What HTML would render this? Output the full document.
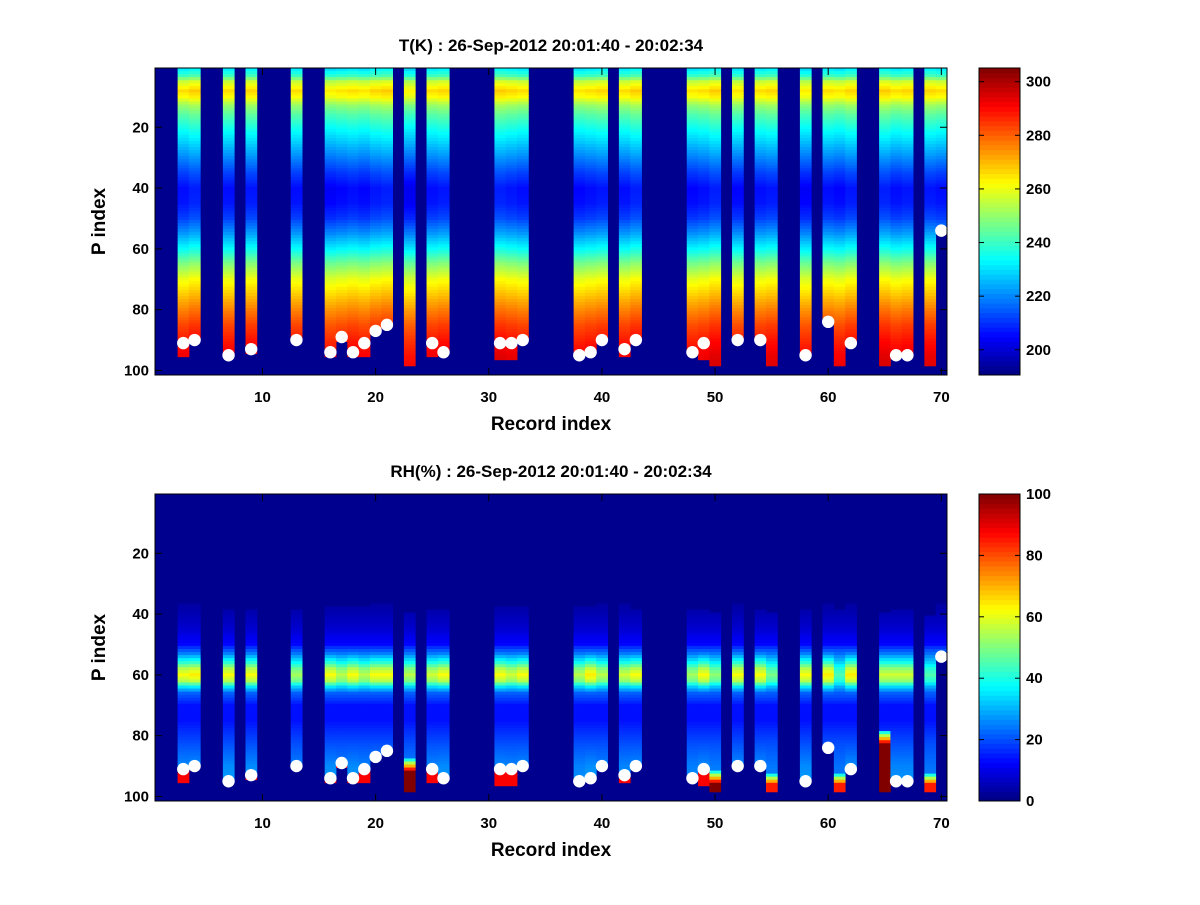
<!DOCTYPE html>
<html><head><meta charset="utf-8"><style>
body{margin:0;background:#fff}
svg text{font-family:"Liberation Sans",sans-serif;font-weight:bold;fill:#000}
</style></head><body>
<svg id="fig" width="1200" height="900" viewBox="0 0 1200 900" xmlns="http://www.w3.org/2000/svg">
<rect width="1200" height="900" fill="#fff"/>
<g id="g1"></g>
<g id="g2"></g>
</svg>
<script>
// ---- data ----
const cols = [3,4,7,9,13,16,17,18,19,20,21,23,25,26,31,32,33,38,39,40,42,43,48,49,50,52,54,55,58,60,61,62,65,66,67,69,70];
const dots = [91,90,95,93,90,94,89,94,91,87,85,null,91,94,91,91,90,95,94,90,93,90,94,91,null,90,90,null,95,84,null,91,null,95,95,null,54];
const ends = [95,89,94,94,89,95,90,95,95,86,84,98,95,93,96,96,89,94,93,89,95,89,93,96,98,89,89,98,94,83,98,90,98,94,94,98,53];
const tOff = [0,2,0,1,0,-2,-1,0,-1,1,2,-3,0,1,2,1,0,-1,0,1,0,2,-1,0,2,-1,0,1,-2,0,-1,1,2,0,1,1,0];
const tP = [1,3,5,8,10,13,16,20,25,30,35,40,45,50,55,60,65,70,75,80,85,90,95,100];
const tV = [232,240,256,266,262,250,243,236,228,220,212,206,207,212,222,234,248,260,268,276,283,288,292,294];
const rhScale = [1.0,1.05,1.0,1.0,0.8,1.0,0.85,1.0,0.85,1.0,1.0,0.85,0.9,1.0,1.0,0.9,1.0,0.85,1.05,0.85,0.9,1.0,0.8,1.0,0.75,1.0,1.0,0.7,1.0,1.05,0.6,1.05,0.9,0.9,0.9,0.6,0.7];
const rhStart = [37,37,39,39,39,38,38,38,38,37,37,40,39,39,38,38,38,38,38,37,37,39,39,39,40,37,39,40,39,37,39,37,40,39,39,41,37];
const rhP = [36,40,45,50,53,56,58,60,62,64,66,70,75,80,85,90,95,100];
const rhV = [3,5,8,13,25,42,55,62,55,35,22,14,14,18,22,26,28,28];
const wetCols = [23,50,55,61,65,69];
const wetTop = [88,92,93,93,79,93];
const wetMax = [100,100,85,85,100,85];
const xTicks = [10,20,30,40,50,60,70];
const yTicks = [20,40,60,80,100];
const tCbTicks = [200,220,240,260,280,300];
const rhCbTicks = [0,20,40,60,80,100];

const NS="http://www.w3.org/2000/svg";
const BG="#00008f";
function jet(t){t=Math.max(0,Math.min(1,t));
 const c=v=>Math.round(255*Math.max(0,Math.min(1,v)));
 return `rgb(${c(1.5-Math.abs(4*t-3))},${c(1.5-Math.abs(4*t-2))},${c(1.5-Math.abs(4*t-1))})`;}
function interp(P,V,p){if(p<=P[0])return V[0];for(let i=1;i<P.length;i++){if(p<=P[i]){const f=(p-P[i-1])/(P[i]-P[i-1]);return V[i-1]+f*(V[i]-V[i-1]);}}return V[V.length-1];}
function mk(parent,tag,attrs){const e=document.createElementNS(NS,tag);for(const k in attrs)e.setAttribute(k,attrs[k]);parent.appendChild(e);return e;}

function panel(g,top,title,valueFn,vmin,vmax,cbTicks){
 const L=155,R=947,T=top,B=top+307;
 const xs=v=>L+(v-0.5)*(R-L)/70;
 const ys=v=>T+(v-0.5)*(B-T)/101;
 const bg=mk(g,'rect',{x:L,y:T,width:R-L,height:B-T,fill:BG});
 
 
 const cw=(R-L)/70,rh=(B-T)/101;
 cols.forEach((c,i)=>{
  const cg=mk(g,'g',{});
  
  
  for(let p=1;p<=ends[i];p++){
   const v=valueFn(i,p);if(v===null)continue;
   mk(cg,'rect',{x:xs(c-0.5).toFixed(2),y:ys(p-0.5).toFixed(2),width:(cw+0.4).toFixed(2),height:(rh+0.4).toFixed(2),fill:jet((v-vmin)/(vmax-vmin))});
  }
 });
 cols.forEach((c,i)=>{ if(dots[i]===null)return;
  const d=mk(g,'circle',{cx:xs(c),cy:ys(dots[i]),r:6.2,fill:'#fff'});
  
  
 });
 const ax=mk(g,'rect',{x:L,y:T,width:R-L,height:B-T,fill:'none',stroke:'#000','stroke-width':1});
 
 
 xTicks.forEach(t=>{const x=xs(t);
  mk(g,'line',{x1:x,y1:B,x2:x,y2:B-7,stroke:'#000'});mk(g,'line',{x1:x,y1:T,x2:x,y2:T+7,stroke:'#000'});
  const tx=mk(g,'text',{x:x,y:B+27,'text-anchor':'middle','font-size':15});tx.textContent=t;
  
  });
 yTicks.forEach(t=>{const y=ys(t);
  mk(g,'line',{x1:L,y1:y,x2:L+7,y2:y,stroke:'#000'});mk(g,'line',{x1:R,y1:y,x2:R-7,y2:y,stroke:'#000'});
  const tx=mk(g,'text',{x:L-6,y:y+5,'text-anchor':'end','font-size':15});tx.textContent=t;
  
  });
 const tt=mk(g,'text',{x:551,y:T-17,'text-anchor':'middle','font-size':17});tt.textContent=title;
 
 
 const xl=mk(g,'text',{x:551,y:B+55,'text-anchor':'middle','font-size':19});xl.textContent='Record index';
 
 
 const yl=mk(g,'text',{x:0,y:0,'text-anchor':'middle','font-size':19,transform:`translate(105,${(T+B)/2}) rotate(-90)`});yl.textContent='P index';
 
 
 const cb=mk(g,'g',{});
 
 
 const CL=979,CR=1020,N=64;
 for(let k=0;k<N;k++){const y0=B-(k+1)*(B-T)/N;mk(cb,'rect',{x:CL,y:y0.toFixed(2),width:CR-CL,height:((B-T)/N+0.5).toFixed(2),fill:jet((k+0.5)/N)});}
 mk(cb,'rect',{x:CL,y:T,width:CR-CL,height:B-T,fill:'none',stroke:'#000'});
 cbTicks.forEach(t=>{const y=B-(t-vmin)/(vmax-vmin)*(B-T);
  mk(cb,'line',{x1:CR,y1:y,x2:CR-5,y2:y,stroke:'#000'});mk(cb,'line',{x1:CL,y1:y,x2:CL+5,y2:y,stroke:'#000'});
  const tx=mk(cb,'text',{x:CR+6,y:y+5,'font-size':15});tx.textContent=t;
  
  });
}

panel(document.getElementById('g1'),68,'T(K) : 26-Sep-2012 20:01:40 - 20:02:34',
 (i,p)=>interp(tP,tV,p)+tOff[i],190.6,305.1,tCbTicks);

panel(document.getElementById('g2'),494,'RH(%) : 26-Sep-2012 20:01:40 - 20:02:34',
 (i,p)=>{
  if(p<rhStart[i])return null;
  const c=cols[i];const w=wetCols.indexOf(c);
  if(w>=0&&p>=wetTop[w]){const k=p-wetTop[w];return Math.min(wetMax[w],40+k*15+(k>=4?wetMax[w]:0));}
  if(dots[i]!==null&&p>dots[i])return 88;
  const b=interp(rhP,rhV,p);
  return b>20?20+(b-20)*rhScale[i]:b;
 },0,100,rhCbTicks);
</script>
</body></html>
